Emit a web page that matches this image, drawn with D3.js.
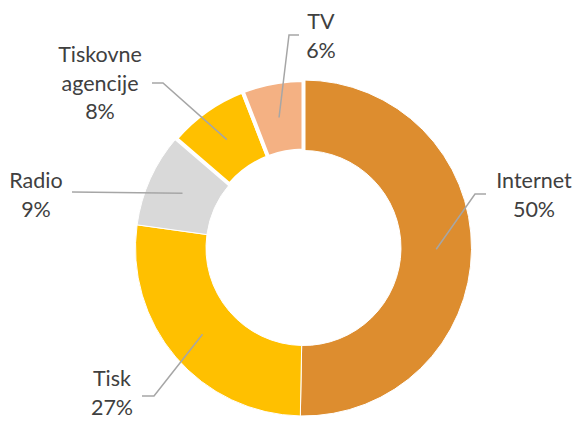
<!DOCTYPE html>
<html>
<head>
<meta charset="utf-8">
<script src="https://cdn.jsdelivr.net/npm/d3@7"></script>
<style>
  body { margin: 0; background: #fff; }
  #chart svg { display: block; }
</style>
</head>
<body>
<div id="chart"></div>
<script>
'use strict';

// data (shares in %)
const categories = ['Internet', 'Tisk', 'Radio', 'Tiskovne agencije', 'TV'];
const shares = [50.3, 26.9, 9.1, 7.8, 5.9];
const shareLabels = ['50%', '27%', '9%', '8%', '6%'];

const colors = {
  'Internet': '#dd8d2f',
  'Tisk': '#ffc000',
  'Radio': '#d9d9d9',
  'Tiskovne agencije': '#ffc000',
  'TV': '#f4b183'
};
// the two small top slices have a wide white border
const borderWidth = {
  'Internet': 1, 'Tisk': 1, 'Radio': 1, 'Tiskovne agencije': 4, 'TV': 4
};

// label layout: text centre x, first baseline y, leader line start points
const labelLayout = {
  'Internet': { x: 534, y: 188, lines: ['Internet'], leader: [[486, 194], [475, 194]] },
  'Tisk': { x: 112, y: 386, lines: ['Tisk'], leader: [[142, 396], [154, 396]] },
  'Radio': { x: 36, y: 188, lines: ['Radio'], leader: [[72, 192]] },
  'Tiskovne agencije': { x: 100, y: 62, lines: ['Tiskovne', 'agencije'], leader: [[152, 83], [163, 83]] },
  'TV': { x: 321, y: 29, lines: ['TV'], leader: [[299, 35], [289, 35]] }
};

const dims = { width: 577, height: 421, cx: 303.5, cy: 248, outer: 168, inner: 97.5 };

const dataset = categories.map((c, i) => ({ key: c, value: shares[i], label: shareLabels[i] }));

const svg = d3.select('#chart')
  .append('svg')
  .attr('width', dims.width)
  .attr('height', dims.height);

const pie = d3.pie()
  .value(d => d.value)
  .sort(null);

const arc = d3.arc()
  .innerRadius(dims.inner)
  .outerRadius(dims.outer);

const chart_g = svg.append('g')
  .attr('transform', `translate(${dims.cx}, ${dims.cy})`);

const arcs = pie(dataset);

// slices
chart_g.append('g')
  .selectAll('path')
  .data(arcs)
  .join('path')
  .attr('d', arc)
  .attr('fill', d => colors[d.data.key])
  .attr('stroke', '#fff')
  .attr('stroke-width', d => borderWidth[d.data.key])
  .attr('stroke-linejoin', 'miter');

// leader lines, from label to slice centroid
const line = d3.line();
chart_g.append('g')
  .selectAll('path')
  .data(arcs)
  .join('path')
  .attr('d', d => {
    const lay = labelLayout[d.data.key];
    const pts = lay.leader.map(p => [p[0] - dims.cx, p[1] - dims.cy]);
    pts.push(arc.centroid(d));
    return line(pts);
  })
  .attr('fill', 'none')
  .attr('stroke', '#a6a6a6')
  .attr('stroke-width', 1.5);

// labels
const lineStep = 28.7;
const labels = svg.append('g')
  .style('font-family', 'Lato, "Open Sans", sans-serif')
  .style('font-size', '21.5px')
  .attr('fill', '#404040')
  .attr('text-anchor', 'middle')
  .selectAll('text')
  .data(arcs)
  .join('text')
  .attr('x', d => labelLayout[d.data.key].x)
  .attr('y', d => labelLayout[d.data.key].y);

labels.each(function(d){
  const lay = labelLayout[d.data.key];
  const t = d3.select(this);
  lay.lines.concat([d.data.label]).forEach((txt, i) => {
    t.append('tspan')
      .attr('x', lay.x)
      .attr('dy', i === 0 ? 0 : lineStep)
      .text(txt);
  });
});
</script>
</body>
</html>
